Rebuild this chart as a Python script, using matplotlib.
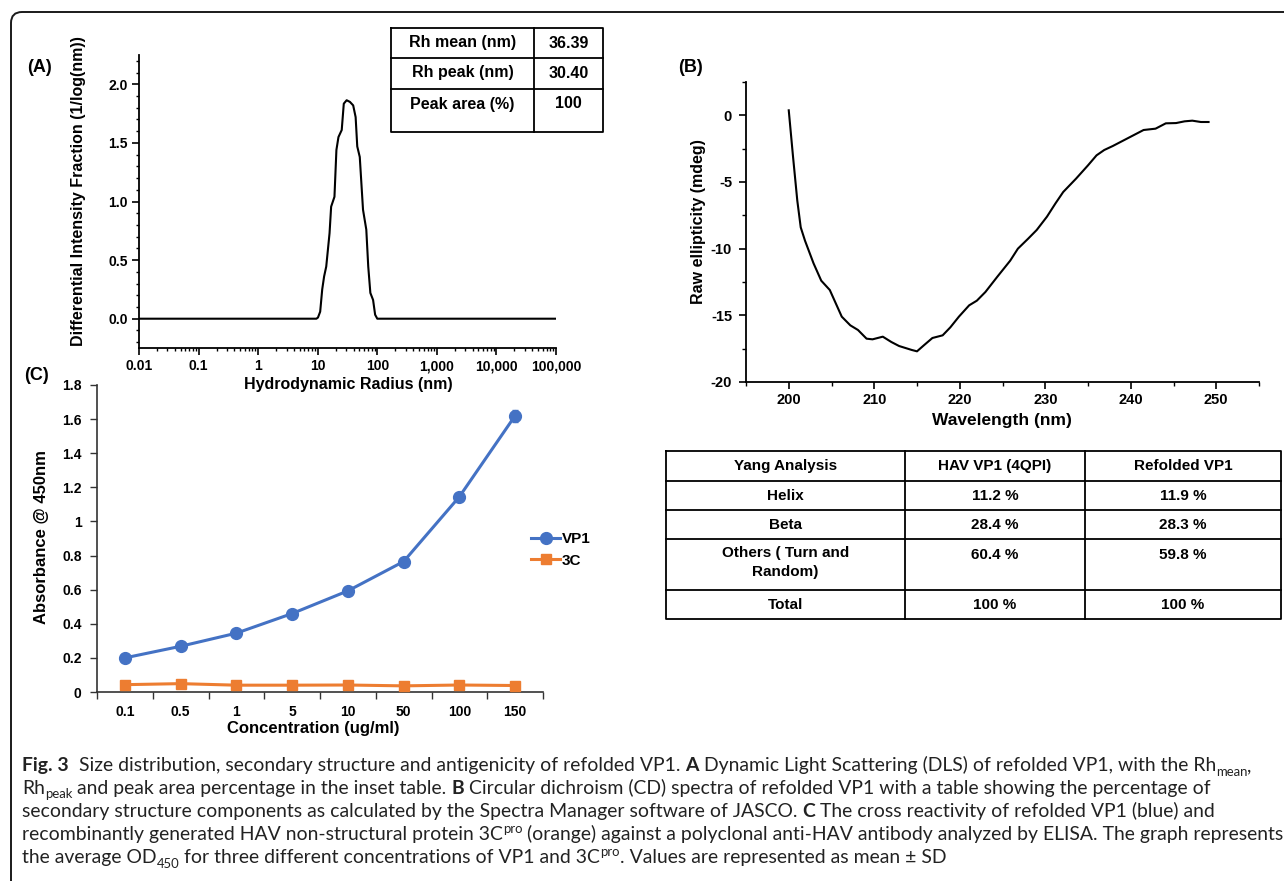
import numpy as np
import matplotlib
matplotlib.use("Agg")
import matplotlib.pyplot as plt
from matplotlib.path import Path
from matplotlib.patches import PathPatch
from matplotlib.ticker import FixedLocator, NullFormatter, FuncFormatter

# ---------------- data ----------------
# Panel A: DLS size distribution
dls_radius = [0.01, 1, 9.5, 10.1, 11.0, 11.9, 12.8, 13.9, 15.8, 16.8, 19.1, 20.6, 22.3, 25.3,
              27.4, 30.6, 34.7, 39.4, 43.3, 46.1, 50.8, 57.6, 65.4, 70.5, 76.5, 85.0,
              92.0, 100.0, 110.0, 1000, 100000]
dls_intensity = [0.0, 0.0, 0.0, 0.01, 0.06, 0.25, 0.36, 0.445, 0.73, 0.956, 1.04, 1.44, 1.55, 1.61,
                 1.835, 1.864, 1.85, 1.82, 1.72, 1.47, 1.38, 0.93, 0.76, 0.445, 0.22, 0.16,
                 0.034, 0.0, 0.0, 0.0, 0.0]
dls_xtick_labels = ["0.01", "0.1", "1", "10", "100", "1,000", "10,000", "100,000"]
dls_table_labels = ["Rh mean (nm)", "Rh peak (nm)", "Peak area (%)"]
dls_table_values = ["36.39", "30.40", "100"]

# Panel B: CD spectrum
cd_wavelength = [200.0, 200.5, 201.0, 201.4, 201.9, 202.9, 203.8, 204.8, 205.5, 206.2, 207.2,
                 208.1, 209.1, 209.8, 211.0, 212.0, 212.9, 214.4, 215.0, 215.8, 216.8, 218.0,
                 218.9, 219.9, 221.1, 222.0, 223.0, 224.4, 225.9, 226.8, 228.0, 229.0, 230.2,
                 231.2, 232.1, 233.6, 235.0, 236.0, 236.9, 237.9, 239.1, 240.0, 241.5, 242.9,
                 244.1, 245.3, 246.3, 247.2, 248.2, 249.1]
cd_ellipticity = [0.375, -3.1, -6.4, -8.4, -9.4, -11.1, -12.4, -13.1, -14.1, -15.1, -15.75,
                  -16.1, -16.75, -16.8, -16.6, -17.0, -17.3, -17.6, -17.7, -17.25, -16.7, -16.5,
                  -15.9, -15.1, -14.25, -13.9, -13.25, -12.1, -10.9, -10.0, -9.25, -8.6, -7.6,
                  -6.6, -5.75, -4.75, -3.75, -3.0, -2.6, -2.3, -1.9, -1.6, -1.1, -1.0,
                  -0.6, -0.58, -0.45, -0.4, -0.5, -0.5]
cd_table_header = ["Yang Analysis", "HAV VP1 (4QPI)", "Refolded VP1"]
cd_table_rows = ["Helix", "Beta", "Others ( Turn and\nRandom)", "Total"]
cd_hav_vp1 = ["11.2 %", "28.4 %", "60.4 %", "100 %"]
cd_refolded_vp1 = ["11.9 %", "28.3 %", "59.8 %", "100 %"]

# Panel C: ELISA
elisa_conc = ["0.1", "0.5", "1", "5", "10", "50", "100", "150"]
vp1_abs = [0.20, 0.268, 0.345, 0.46, 0.593, 0.765, 1.145, 1.62]
vp1_sd = [0.01, 0.01, 0.01, 0.012, 0.012, 0.015, 0.022, 0.035]
c3_abs = [0.043, 0.049, 0.040, 0.040, 0.041, 0.036, 0.041, 0.038]
c3_sd = [0.004, 0.004, 0.004, 0.004, 0.004, 0.004, 0.004, 0.004]

# ---------------- figure ----------------
W, H = 1284, 881
fig = plt.figure(figsize=(W / 100, H / 100), dpi=100)
fig.patch.set_facecolor("white")

ARIAL = ["Liberation Sans", "DejaVu Sans"]


def add_ax(left, top, right, bottom):
    ax = fig.add_axes([left / W, 1 - bottom / H, (right - left) / W, (bottom - top) / H])
    ax.patch.set_alpha(0)
    return ax


def place_ylabel(ax, box, px, py):
    l, t, r, b = box
    ax.yaxis.set_label_coords((px - l) / (r - l), (b - py) / (b - t))
    ax.yaxis.label.set_va("center")
    ax.yaxis.label.set_ha("center")


def place_xlabel(ax, box, px, py):
    l, t, r, b = box
    ax.xaxis.set_label_coords((px - l) / (r - l), (b - py) / (b - t))
    ax.xaxis.label.set_va("center")
    ax.xaxis.label.set_ha("center")


# overlay axes in pixel coordinates
ov = fig.add_axes([0, 0, 1, 1], zorder=5)
ov.set_xlim(0, W)
ov.set_ylim(H, 0)
ov.axis("off")
ov.patch.set_alpha(0)

# border (top and left with rounded corner)
r = 11
verts = [(11, H + 10), (11, 12 + r), (11, 12), (11 + r, 12), (W + 10, 12)]
codes = [Path.MOVETO, Path.LINETO, Path.CURVE3, Path.CURVE3, Path.LINETO]
ov.add_patch(PathPatch(Path(verts, codes), facecolor="none", edgecolor="#1a1a1a", lw=1.4))

# ---------------- Panel A ----------------
boxA = (139, 55, 556, 348)
axA = add_ax(*boxA)
axA.plot(dls_radius, dls_intensity, color="black", lw=1.5)
axA.set_xscale("log")
axA.set_xlim(0.01, 100000)
axA.set_ylim(-0.25, 2.25)
for s in ["top", "right"]:
    axA.spines[s].set_visible(False)
for s in ["left", "bottom"]:
    axA.spines[s].set_linewidth(1.3)
dec = [10.0 ** k for k in range(-2, 6)]
axA.xaxis.set_major_locator(FixedLocator(dec))
axA.set_xticklabels(dls_xtick_labels)
minors = [m * 10.0 ** k for k in range(-2, 5) for m in range(2, 10)]
axA.xaxis.set_minor_locator(FixedLocator(minors))
axA.xaxis.set_minor_formatter(NullFormatter())
axA.yaxis.set_major_locator(FixedLocator([0, 0.5, 1.0, 1.5, 2.0]))
axA.yaxis.set_minor_locator(FixedLocator(np.round(np.arange(-0.2, 2.21, 0.1), 2)))
axA.yaxis.set_major_formatter(FuncFormatter(lambda v, p: f"{v:.1f}"))
axA.tick_params(which="major", direction="out", length=5, width=1.2, labelsize=10, pad=3)
axA.tick_params(which="minor", direction="out", length=2.5, width=1.0)
for lab in axA.get_xticklabels() + axA.get_yticklabels():
    lab.set_family(ARIAL)
    lab.set_weight("bold")
axA.set_xlabel("Hydrodynamic Radius (nm)", family=ARIAL, weight="bold", fontsize=11.5)
place_xlabel(axA, boxA, 348, 384)
axA.set_ylabel("Differential Intensity Fraction (1/log(nm))", family=ARIAL, weight="bold",
               fontsize=11.5)
place_ylabel(axA, boxA, 79, 191)

# inset table A
tx0, tx1, tx2 = 391, 534, 603
ty = [28, 58, 89, 132]
lk = dict(color="black", lw=1.3)
ov.plot([tx0, tx2, tx2, tx0, tx0], [ty[0], ty[0], ty[3], ty[3], ty[0]], **lk)
ov.plot([tx1, tx1], [ty[0], ty[3]], **lk)
for yy in ty[1:3]:
    ov.plot([tx0, tx2], [yy, yy], **lk)
row_centers = [43, 73, 104]
for lab, val, yc in zip(dls_table_labels, dls_table_values, row_centers):
    ov.text((tx0 + tx1) / 2, yc, lab, ha="center", va="center", family=ARIAL, weight="bold", fontsize=11.5)
    ov.text((tx1 + tx2) / 2, yc, val, ha="center", va="center", family=ARIAL, weight="bold", fontsize=11.5)

ov.text(27, 68, "(A)", ha="left", va="center", family=ARIAL, weight="bold", fontsize=13)
ov.text(678, 68, "(B)", ha="left", va="center", family=ARIAL, weight="bold", fontsize=13)
ov.text(24, 376, "(C)", ha="left", va="center", family=ARIAL, weight="bold", fontsize=13)

# ---------------- Panel B ----------------
boxB = (746, 82, 1259, 382)
axB = add_ax(*boxB)
axB.plot(cd_wavelength, cd_ellipticity, color="black", lw=1.5)
axB.set_xlim(195, 255)
axB.set_ylim(-20, 2.5)
for s in ["top", "right"]:
    axB.spines[s].set_visible(False)
for s in ["left", "bottom"]:
    axB.spines[s].set_linewidth(1.3)
axB.xaxis.set_major_locator(FixedLocator([200, 210, 220, 230, 240, 250]))
axB.xaxis.set_minor_locator(FixedLocator([195, 205, 215, 225, 235, 245, 255]))
axB.yaxis.set_major_locator(FixedLocator([-20, -15, -10, -5, 0]))
axB.yaxis.set_minor_locator(FixedLocator([-17.5, -12.5, -7.5, -2.5, 2.5]))
axB.yaxis.set_major_formatter(FuncFormatter(lambda v, p: f"{v:g}".replace("\u2212", "-")))
axB.tick_params(which="major", direction="out", length=5, width=1.2, labelsize=10.5, pad=5)
axB.tick_params(axis="x", which="major", pad=3)
axB.tick_params(which="minor", direction="out", length=3, width=1.0)
for lab in axB.get_xticklabels() + axB.get_yticklabels():
    lab.set_family(ARIAL)
    lab.set_weight("bold")
axB.set_xlabel("Wavelength (nm)", family=ARIAL, weight="bold", fontsize=12.5)
place_xlabel(axB, boxB, 1002, 421)
axB.set_ylabel("Raw ellipticity (mdeg)", family=ARIAL, weight="bold", fontsize=11.5)
place_ylabel(axB, boxB, 699, 222)

# table B
bx = [666, 905, 1085, 1281]
by = [451, 481, 510, 539, 590, 619]
ov.plot([bx[0], bx[3], bx[3], bx[0], bx[0]], [by[0], by[0], by[5], by[5], by[0]], **lk)
for xx in bx[1:3]:
    ov.plot([xx, xx], [by[0], by[5]], **lk)
for yy in by[1:5]:
    ov.plot([bx[0], bx[3]], [yy, yy], **lk)
bcx = [(bx[i] + bx[i + 1]) / 2 for i in range(3)]
tk = dict(family=ARIAL, weight="bold", fontsize=11)
for j, h in enumerate(cd_table_header):
    ov.text(bcx[j], 466, h, ha="center", va="center", **tk)
row_y = [496, 525, 555, 605]
for lab, a, b, yc in zip(cd_table_rows, cd_hav_vp1, cd_refolded_vp1, row_y):
    if "\n" in lab:
        ov.text(bcx[0], yc - 9, lab, ha="center", va="top", linespacing=1.45, **tk)
    else:
        ov.text(bcx[0], yc, lab, ha="center", va="center", **tk)
    ov.text(bcx[1], yc, a, ha="center", va="center", **tk)
    ov.text(bcx[2], yc, b, ha="center", va="center", **tk)

# ---------------- Panel C ----------------
boxC = (97, 385, 543, 692)
axC = add_ax(*boxC)
xs = np.arange(len(elisa_conc))
blue, orange = "#4472C4", "#ED7D31"
axC.errorbar(xs, vp1_abs, yerr=vp1_sd, fmt="none", ecolor=blue, elinewidth=1.0, capsize=2.5, zorder=2)
axC.errorbar(xs, c3_abs, yerr=c3_sd, fmt="none", ecolor=orange, elinewidth=1.0, capsize=2.5, zorder=2)
axC.plot(xs, vp1_abs, color=blue, lw=2.2, marker="o", ms=8.5, label="VP1", zorder=3)
axC.plot(xs, c3_abs, color=orange, lw=2.2, marker="s", ms=7.5, label="3C", zorder=3)
axC.set_xlim(-0.5, len(elisa_conc) - 0.5)
axC.set_ylim(0, 1.8)
for s in ["top", "right"]:
    axC.spines[s].set_visible(False)
for s in ["left", "bottom"]:
    axC.spines[s].set_linewidth(1.2)
    axC.spines[s].set_color("#333333")
axC.xaxis.set_major_locator(FixedLocator(np.arange(-0.5, len(elisa_conc), 1.0)))
axC.xaxis.set_major_formatter(NullFormatter())
axC.xaxis.set_minor_locator(FixedLocator(xs))
axC.set_xticklabels(elisa_conc, minor=True)
axC.yaxis.set_major_locator(FixedLocator(np.round(np.arange(0, 1.81, 0.2), 1)))
axC.yaxis.set_major_formatter(FuncFormatter(lambda v, p: f"{v:g}"))
axC.tick_params(axis="x", which="major", direction="out", length=5, width=1.0, color="#333333")
axC.tick_params(axis="x", which="minor", length=0, pad=9, labelsize=10)
axC.tick_params(axis="y", which="major", direction="out", length=5, width=1.0, color="#333333",
                labelsize=10, pad=6)
for lab in axC.get_xticklabels(minor=True) + axC.get_yticklabels():
    lab.set_family(ARIAL)
    lab.set_weight("bold")
axC.set_xlabel("Concentration (ug/ml)", family=ARIAL, weight="bold", fontsize=12)
place_xlabel(axC, boxC, 313, 728)
axC.set_ylabel("Absorbance @ 450nm", family=ARIAL, weight="bold", fontsize=12)
place_ylabel(axC, boxC, 42, 537)
leg = axC.legend(loc="center left", bbox_to_anchor=(531 / W, 1 - 550 / H), bbox_transform=fig.transFigure,
                 frameon=False, handlelength=1.9, handletextpad=0.12, labelspacing=0.5,
                 borderpad=0, borderaxespad=0,
                 prop=dict(family=ARIAL, weight="bold", size=11))

# ---------------- caption ----------------
CAP = ["Lato", "DejaVu Sans"]
caption_lines = [
    [("Fig. 3", "bold", "n"), ("  Size distribution, secondary structure and antigenicity of refolded VP1. ", "normal", "n"),
     ("A", "bold", "n"), (" Dynamic Light Scattering (DLS) of refolded VP1, with the Rh", "normal", "n"),
     ("mean", "normal", "sub"), (",", "normal", "n")],
    [("Rh", "normal", "n"), ("peak", "normal", "sub"),
     (" and peak area percentage in the inset table. ", "normal", "n"), ("B", "bold", "n"),
     (" Circular dichroism (CD) spectra of refolded VP1 with a table showing the percentage of", "normal", "n")],
    [("secondary structure components as calculated by the Spectra Manager software of JASCO. ", "normal", "n"),
     ("C", "bold", "n"), (" The cross reactivity of refolded VP1 (blue) and", "normal", "n")],
    [("recombinantly generated HAV non-structural protein 3C", "normal", "n"), ("pro", "normal", "sup"),
     (" (orange) against a polyclonal anti-HAV antibody analyzed by ELISA. The graph represents", "normal", "n")],
    [("the average OD", "normal", "n"), ("450", "normal", "sub"),
     (" for three different concentrations of VP1 and 3C", "normal", "n"), ("pro", "normal", "sup"),
     (". Values are represented as mean \u00b1 SD", "normal", "n")],
]
caption_y = [771, 794, 817, 840, 863]
renderer = fig.canvas.get_renderer()


def seg_width(txt, weight, size):
    t1 = fig.text(0, 0, "x" + txt + "x", family=CAP, weight=weight, fontsize=size)
    t2 = fig.text(0, 0, "xx", family=CAP, weight=weight, fontsize=size)
    w = t1.get_window_extent(renderer).width - t2.get_window_extent(renderer).width
    t1.remove()
    t2.remove()
    return w


def line_width(segs, size):
    return sum(seg_width(t, w, size * (0.68 if k != "n" else 1.0)) for t, w, k in segs)


base = 12.0
target = 1254.0
size = base * target / line_width(caption_lines[3], base)

for segs, yb in zip(caption_lines, caption_y):
    x = 22.0
    for txt, wt, kind in segs:
        fs = size * (0.68 if kind != "n" else 1.0)
        dy = 4.5 if kind == "sub" else (-7 if kind == "sup" else 0)
        ov.text(x, yb + dy, txt, family=CAP, weight=wt, fontsize=fs, ha="left", va="baseline",
                color="#222222")
        x += seg_width(txt, wt, fs)

fig.savefig("out.png", dpi=100, facecolor="white")
